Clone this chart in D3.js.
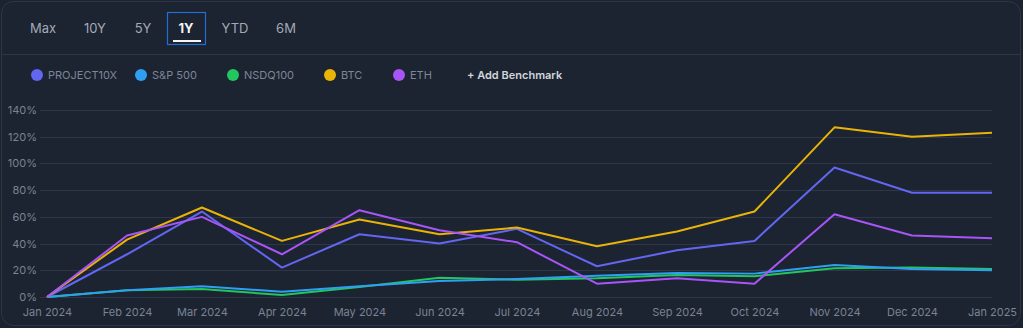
<!DOCTYPE html>
<html><head><meta charset="utf-8">
<script src="https://cdn.jsdelivr.net/npm/d3@7"></script>
<style>
html,body{margin:0;padding:0;background:#1b2230;}
svg{display:block;font-family:Inter,"Noto Sans",sans-serif;}
</style></head>
<body><svg id="c" width="1023" height="328"></svg>
<script>
const months = ["2024-01-01","2024-02-01","2024-03-01","2024-04-01","2024-05-01","2024-06-01","2024-07-01","2024-08-01","2024-09-01","2024-10-01","2024-11-01","2024-12-01","2025-01-01"];
const project10x = [0,32,64,22,47,40,51,23,35,42,97,78,78];
const sp500 = [0,5,8,4,8,12,13.5,16,18,17.5,24,21,20];
const nsdq100 = [0,5,6,1.5,7.5,14.5,13,14,16.5,15.5,21.5,22,21];
const btc = [0,43,67,42,58,47,52,38,49,64,127,120,123];
const eth = [0,46,60,32,65,50,41,10,14,10,62,46,44];
const yTicks = [0,20,40,60,80,100,120,140];
const tabs = ["Max","10Y","5Y","1Y","YTD","6M"];
const seriesNames = ["PROJECT10X","S&P 500","NSDQ100","BTC","ETH"];
const seriesColors = ["#6366f1","#2f9ff2","#22c55e","#eab308","#a855f7"];

const svg = d3.select("#c");
// card
svg.append("rect").attr("x",1.5).attr("y",1.5).attr("width",1019).attr("height",324).attr("rx",12)
  .attr("fill","#1c2331").attr("stroke","#2e3746");
svg.append("line").attr("x1",2).attr("x2",1020).attr("y1",54.5).attr("y2",54.5).attr("stroke","#2e3746");

// tabs
const tabX = [43,95,143,186,235,286];
svg.append("rect").attr("x",167.5).attr("y",12.5).attr("width",38).attr("height",32)
  .attr("fill","none").attr("stroke","#1f6fd6").attr("stroke-width",1.2);
svg.append("rect").attr("x",173).attr("y",40).attr("width",28).attr("height",2).attr("fill","#f3f4f6");
svg.selectAll(".tab").data(tabs).enter().append("text")
  .attr("x",(d,i)=>tabX[i]).attr("y",33).attr("text-anchor","middle")
  .attr("font-size",13).attr("font-weight",d=>d==="1Y"?700:400)
  .attr("fill",d=>d==="1Y"?"#f3f4f6":"#a3aab6").text(d=>d);

// legend
const legX = [37,141,233,330,399];
const lg = svg.selectAll(".lg").data(seriesNames).enter().append("g");
lg.append("circle").attr("cx",(d,i)=>legX[i]).attr("cy",75).attr("r",6).attr("fill",(d,i)=>seriesColors[i]);
lg.append("text").attr("x",(d,i)=>legX[i]+11).attr("y",79).attr("font-size",11)
  .attr("fill","#7d8697").text(d=>d);
svg.append("text").attr("x",467).attr("y",79).attr("font-size",11).attr("font-weight",600)
  .attr("fill","#d1d5db").text("+ Add Benchmark");

// scales
const parse = d3.utcParse("%Y-%m-%d");
const dates = months.map(parse);
const x = d3.scaleUtc().domain([dates[0],dates[dates.length-1]]).range([47,992]);
const y = d3.scaleLinear().domain([0,140]).range([297,110]);

// grid
svg.append("g").selectAll("line").data(yTicks).enter().append("line")
  .attr("x1",40).attr("x2",992).attr("y1",d=>Math.round(y(d))+0.5).attr("y2",d=>Math.round(y(d))+0.5)
  .attr("stroke","#2e3748").attr("stroke-width",1);

// y axis
const yAxis = svg.append("g").attr("transform","translate(37,0)")
  .call(d3.axisLeft(y).tickValues(yTicks).tickFormat(d=>d+"%").tickSize(0).tickPadding(0));
yAxis.select(".domain").remove();
yAxis.selectAll("text").attr("fill","#7a8393").attr("font-size",11).attr("font-family","Inter,'Noto Sans',sans-serif");

// x axis
const xAxis = svg.append("g").attr("transform","translate(0,305)")
  .call(d3.axisBottom(x).tickValues(dates).tickFormat(d3.utcFormat("%b %Y")).tickSize(0).tickPadding(3));
xAxis.select(".domain").remove();
xAxis.selectAll("text").attr("fill","#7a8393").attr("font-size",11).attr("font-family","Inter,'Noto Sans',sans-serif");

// lines
const data = [project10x,sp500,nsdq100,btc,eth];
const order = [2,1,0,3,4];
const line = d3.line().x((d,i)=>x(dates[i])).y(d=>y(d));
order.forEach(k=>{
  svg.append("path").datum(data[k]).attr("d",line).attr("fill","none")
    .attr("stroke",seriesColors[k]).attr("stroke-width",2).attr("stroke-linejoin","round");
});
</script></body></html>
